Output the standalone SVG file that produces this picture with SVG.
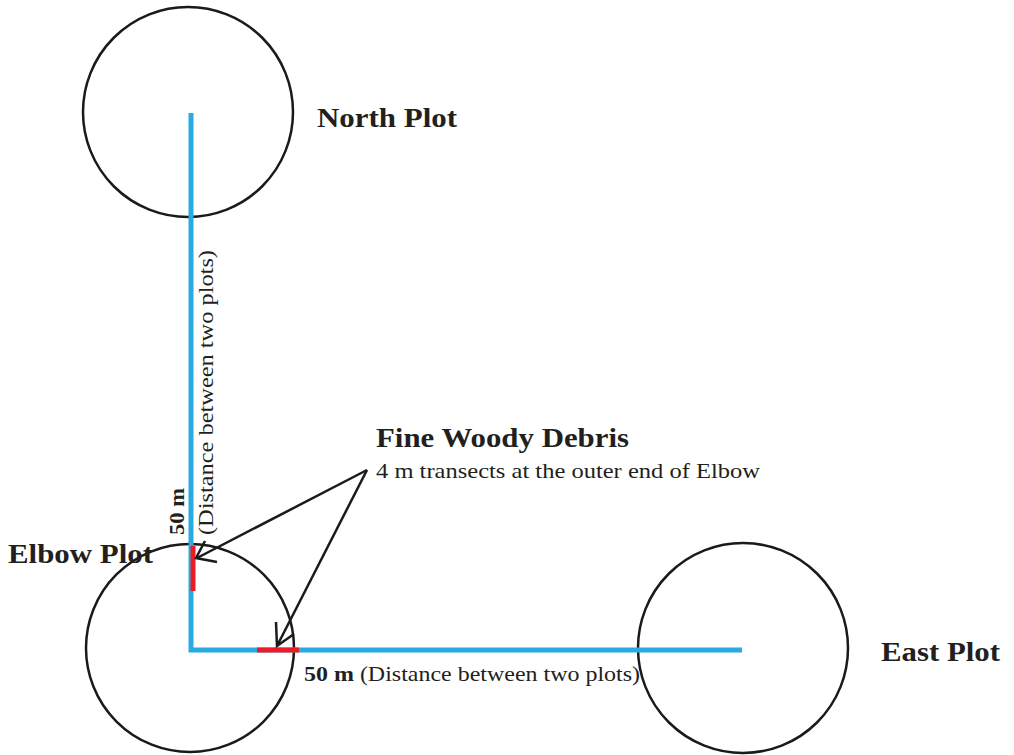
<svg xmlns="http://www.w3.org/2000/svg" width="1014" height="755" viewBox="0 0 1014 755">
<style>
.plot{fill:none;stroke:#1a1a1a;stroke-width:2.5}
.blue{stroke:#29abe2;stroke-width:5;fill:none}
.red{stroke:#ed1c24;stroke-width:5;fill:none}
.arr{stroke:#1a1a1a;stroke-width:2.5;fill:none}
text{font-family:"Liberation Serif",serif;fill:#231f20}
.lbl{font-size:27px;font-weight:bold}
.sm{font-size:21px}
</style>
<rect width="1014" height="755" fill="#fff"/>
<g id="north-plot"><circle class="plot" cx="188" cy="112" r="105"/><text class="lbl" x="317" y="127" textLength="140" lengthAdjust="spacingAndGlyphs">North Plot</text></g>
<g id="elbow-plot"><circle class="plot" cx="190" cy="648" r="104"/><text class="lbl" x="8" y="563" textLength="145" lengthAdjust="spacingAndGlyphs">Elbow Plot</text></g>
<g id="east-plot"><circle class="plot" cx="743" cy="648" r="105"/><text class="lbl" x="881" y="661" textLength="119" lengthAdjust="spacingAndGlyphs">East Plot</text></g>
<g id="connectors">
<polyline class="blue" points="191,113 191,650 742,650"/>
<line class="red" x1="193" y1="546" x2="193" y2="591"/>
<line class="red" x1="257" y1="650" x2="299" y2="650"/>
<polyline class="arr" points="367,470 197,558"/>
<polyline class="arr" points="205,541 196,558 217,562"/>
<polyline class="arr" points="367,470 277,646"/>
<polyline class="arr" points="276,622 277,646 294,634"/>
<text class="sm" x="304" y="681" textLength="336" lengthAdjust="spacingAndGlyphs"><tspan font-weight="bold">50 m</tspan> (Distance between two plots)</text>
<text class="sm" font-weight="bold" transform="translate(184,535) rotate(-90)" textLength="47" lengthAdjust="spacingAndGlyphs">50 m</text>
<text class="sm" transform="translate(213,535) rotate(-90)" textLength="285" lengthAdjust="spacingAndGlyphs">(Distance between two plots)</text>
</g>
<g id="fwd-label">
<text class="lbl" x="376" y="447" textLength="253" lengthAdjust="spacingAndGlyphs">Fine Woody Debris</text>
<text class="sm" x="376" y="478" textLength="384" lengthAdjust="spacingAndGlyphs">4 m transects at the outer end of Elbow</text>
</g>
</svg>
